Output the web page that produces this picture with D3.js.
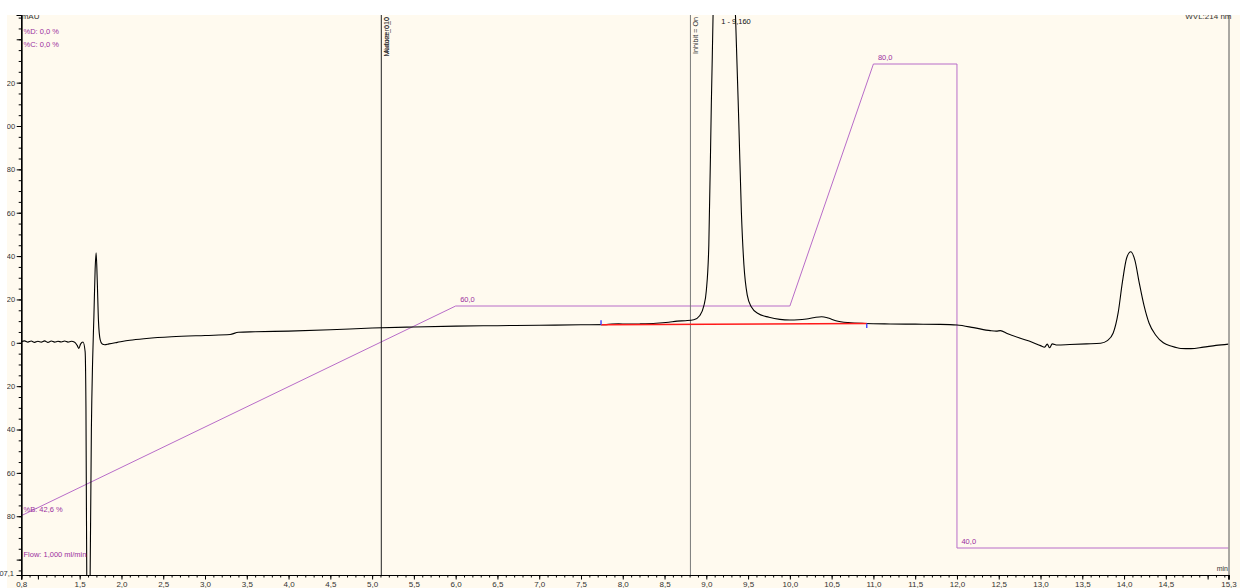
<!DOCTYPE html>
<html><head><meta charset="utf-8">
<script src="https://cdn.jsdelivr.net/npm/d3@7"></script>
<style>
html,body{margin:0;padding:0;background:#fff;}
svg{display:block;}
text{font-family:"Liberation Sans",Arial,sans-serif;}
</style>
</head><body>
<svg id="c" width="1240" height="588"></svg>
<script>
// ---- data ----
const timeMin = [0.80,0.84,0.88,0.92,0.96,1.00,1.04,1.08,1.12,1.16,1.20,1.24,1.28,1.32,1.36,1.40,1.44,1.47,1.49,1.51,
  1.54,1.565,1.575,1.585,1.605,1.625,1.64,1.655,1.67,1.685,1.697,1.71,1.725,1.745,1.77,1.80,1.85,1.95,2.1,2.3,
  2.6,3.0,3.3,3.4,3.6,4.0,4.5,5.0,5.5,6.0,6.5,7.0,7.5,7.8,7.95,8.05,8.2,8.4,8.55,8.65,
  8.75,8.85,8.92,8.97,9.0,9.03,9.06,9.09,9.12,9.16,9.20,9.25,9.30,9.35,9.39,9.42,9.45,9.49,9.54,9.62,
  9.75,9.88,10.0,10.1,10.2,10.3,10.38,10.46,10.55,10.7,10.9,11.2,11.5,11.8,12.0,12.2,12.4,12.47,12.52,12.6,
  12.75,12.9,13.0,13.05,13.08,13.11,13.14,13.2,13.35,13.55,13.72,13.8,13.87,13.93,13.98,14.03,14.08,14.13,14.18,14.24,
  14.3,14.38,14.47,14.57,14.68,14.8,14.95,15.1,15.25];
const signalMAU = [0.5,0.9,0.3,0.8,0.2,0.7,0.3,0.9,0.2,0.8,0.3,0.7,0.4,0.8,0.3,0.7,0.3,-1.2,-2.6,-0.6,
  0.4,-4,-30,-110,-150,-108,-40,-8,12,34,41.5,29,10,1.5,-0.6,-0.9,-0.5,0.2,1.2,2.0,
  2.8,3.4,3.8,4.9,5.1,5.4,6.0,6.8,7.3,7.7,7.9,8.1,8.3,8.4,8.8,8.6,8.7,9.0,9.5,10.0,
  10.2,10.6,12.5,17,24,45,110,170,260,320,300,250,190,150,100,60,36,22,16.5,13.5,
  11.8,10.8,10.5,10.6,11.0,11.7,12.0,11.4,10.2,9.3,8.9,8.7,8.6,8.5,8.2,7.0,5.6,5.4,5.6,4.3,
  2.2,0.3,-1.3,-2.0,-0.6,-2.3,-0.5,-1.0,-0.8,-0.5,-0.2,1.0,4.5,14,28,39,42,38,28,17,
  9,3.5,0,-1.6,-2.6,-2.7,-2.0,-1.2,-0.6];

const gradTime = [0, 6, 10, 11, 12, 12, 15.25];
const gradB = [40, 60, 60, 80, 80, 40, 40];
const gradLabelTime = [6, 11, 12];
const gradLabelValue = [60, 80, 40];
const gradLabelText = ["60,0", "80,0", "40,0"];

const eventTime = [5.11, 8.81];
const eventLabel = [["Mixture_010", "Autozero_0"], ["Inhibit = On"]];
const eventColor = ["#222", "#7a7a7a"];

const peakTime = [9.16];
const peakLabel = ["1 - 9,160"];

const baselineTime = [7.74, 10.92];
const baselineValue = [8.3, 8.9];

const xLabelValues = [0.8,1.5,2.0,2.5,3.0,3.5,4.0,4.5,5.0,5.5,6.0,6.5,7.0,7.5,8.0,8.5,9.0,9.5,10.0,10.5,11.0,11.5,12.0,12.5,13.0,13.5,14.0,14.5,15.25];
const xLabelText = ["0,8","1,5","2,0","2,5","3,0","3,5","4,0","4,5","5,0","5,5","6,0","6,5","7,0","7,5","8,0","8,5","9,0","9,5","10,0","10,5","11,0","11,5","12,0","12,5","13,0","13,5","14,0","14,5","15,3"];
const xUnlabeledMajor = [1.0, 15.0];
const yLabelValues = [120,100,80,60,40,20,0,-20,-40,-60,-80];
const yLabelText = ["120","100","80","60","40","20","0","-20","-40","-60","-80"];
const yUnlabeledMajor = [140, -100];
const yEndValue = -107.1;
const yEndText = "-107,1";
const infoText = ["%D: 0,0 %", "%C: 0,0 %", "%B: 42,6 %", "Flow: 1,000 ml/min"];

// ---- layout ----
const W = 1240, H = 588;
const L = 21.2, R = 1228.5, T = 15, B = 575;
const purple = "#b86cc8", purpleText = "#9b2f9e";

const svg = d3.select("#c");
const defs = svg.append("defs");
defs.append("clipPath").attr("id","panel").append("rect").attr("x",7).attr("y",T).attr("width",W-7).attr("height",H-T);
defs.append("clipPath").attr("id","plot").append("rect").attr("x",L).attr("y",T).attr("width",R-L).attr("height",B-T);

svg.append("rect").attr("x",7).attr("y",T).attr("width",W-7).attr("height",H-T).attr("fill","#fffaef");

const x = d3.scaleLinear().domain([0.8, 15.25]).range([L, R]);
const y = d3.scaleLinear().domain([yEndValue, 151.2]).range([B, T]);
const yB = d3.scaleLinear().domain([40, 80]).range([548, 64]);

const g = svg.append("g").attr("clip-path","url(#panel)");
const gp = g.append("g").attr("clip-path","url(#plot)");

// gradient program line
const gradPts = gradTime.map((t,i)=>[t, gradB[i]]);
gp.append("path").datum(gradPts)
  .attr("fill","none").attr("stroke",purple).attr("stroke-width",1)
  .attr("d", d3.line().x(d=>x(d[0])).y(d=>yB(d[1])));

// event lines
eventTime.forEach((t,i)=>{
  gp.append("line").attr("x1",x(t)).attr("x2",x(t)).attr("y1",T).attr("y2",B)
    .attr("stroke",eventColor[i]).attr("stroke-width",1);
  eventLabel[i].forEach(s=>{
    g.append("text").attr("transform",`translate(${x(t)+8},${T+2}) rotate(-90)`)
      .attr("text-anchor","end").attr("font-size",7.2).attr("fill","#333").text(s);
  });
});

// chromatogram
const pts = timeMin.map((t,i)=>[t, signalMAU[i]]);
gp.append("path").datum(pts)
  .attr("fill","none").attr("stroke","#000").attr("stroke-width",1.1)
  .attr("d", d3.line().x(d=>x(d[0])).y(d=>y(d[1])).curve(d3.curveMonotoneX));

// baseline
gp.append("line").attr("x1",x(baselineTime[0])).attr("y1",y(baselineValue[0]))
  .attr("x2",x(baselineTime[1])).attr("y2",y(baselineValue[1]))
  .attr("stroke","#ff1a1a").attr("stroke-width",1.4);
gp.append("line").attr("x1",x(baselineTime[0])).attr("x2",x(baselineTime[0]))
  .attr("y1",y(baselineValue[0])).attr("y2",y(baselineValue[0])-4.5)
  .attr("stroke","#4a4aff").attr("stroke-width",1.5);
gp.append("line").attr("x1",x(baselineTime[1])).attr("x2",x(baselineTime[1]))
  .attr("y1",y(baselineValue[1])).attr("y2",y(baselineValue[1])+4.5)
  .attr("stroke","#4a4aff").attr("stroke-width",1.5);

// peak label
peakTime.forEach((t,i)=>{
  g.append("text").attr("x",x(t)+1.5).attr("y",T+9).attr("font-size",7.5).attr("fill","#111").text(peakLabel[i]);
});

// gradient labels
gradLabelTime.forEach((t,i)=>{
  g.append("text").attr("x",x(t)+4.5).attr("y",yB(gradLabelValue[i])-4)
   .attr("font-size",7.5).attr("fill",purpleText).text(gradLabelText[i]);
});

// info texts
const infoY = [34, 47, 512, 557];
infoText.forEach((s,i)=>{
  g.append("text").attr("x",23.5).attr("y",infoY[i]).attr("font-size",7.5).attr("fill",purpleText).text(s);
});

// x axis
const xAxis = g.append("g").attr("transform",`translate(0,${B})`);
xAxis.call(d3.axisBottom(x).tickValues(d3.range(8, 153).map(v=>v/10)).tickSize(2.5).tickFormat(""));
xAxis.append("g").call(d3.axisBottom(x).tickValues(xUnlabeledMajor).tickSize(4.5).tickFormat(""));
xAxis.append("g").call(d3.axisBottom(x).tickValues(xLabelValues).tickSize(4.5).tickPadding(1.5).tickFormat((d,i)=>xLabelText[i]));
xAxis.selectAll(".domain").attr("stroke","#000").attr("stroke-width",1.2);
xAxis.selectAll("text").attr("font-size",8).attr("fill","#333").attr("font-family","Liberation Sans, Arial, sans-serif");
xAxis.selectAll("line").attr("stroke","#000");

// y axis
const yAxis = g.append("g").attr("transform",`translate(${L},0)`);
yAxis.call(d3.axisLeft(y).tickValues(d3.range(-105, 155, 5)).tickSize(2.5).tickFormat(""));
yAxis.append("g").call(d3.axisLeft(y).tickValues(yUnlabeledMajor).tickSize(4.5).tickFormat(""));
yAxis.append("g").call(d3.axisLeft(y).tickValues(yLabelValues).tickSize(4.5).tickPadding(1.5).tickFormat((d,i)=>yLabelText[i]));
yAxis.selectAll(".domain").attr("stroke","#000").attr("stroke-width",1.2);
yAxis.selectAll("text").attr("font-size",7.5).attr("fill","#333").attr("font-family","Liberation Sans, Arial, sans-serif");
yAxis.selectAll("line").attr("stroke","#000");

// bottom end label (drawn outside panel clip)
svg.append("text").attr("x",14).attr("y",y(yEndValue)+1).attr("text-anchor","end")
  .attr("font-size",7.5).attr("fill","#333").text(yEndText);

// right border
g.append("line").attr("x1",R+0.5).attr("x2",R+0.5).attr("y1",T).attr("y2",B).attr("stroke","#555").attr("stroke-width",1);

// unit labels
g.append("text").attr("x",L+0.5).attr("y",T+3.5).attr("font-size",8).attr("fill","#333").text("mAU");
g.append("text").attr("x",R+3).attr("y",T+3.5).attr("text-anchor","end").attr("font-size",8).attr("fill","#333").text("WVL:214 nm");
g.append("text").attr("x",R-0.5).attr("y",B-4).attr("text-anchor","end").attr("font-size",7).attr("fill","#333").text("min");
</script>
</body></html>
